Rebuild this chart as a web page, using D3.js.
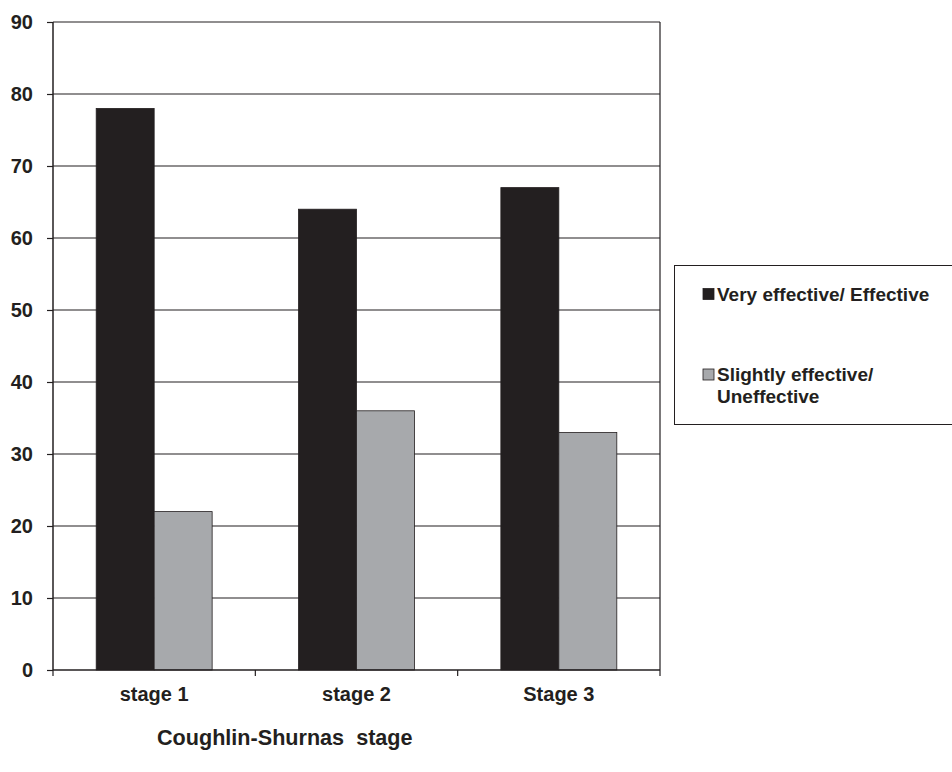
<!DOCTYPE html>
<html><head><meta charset="utf-8">
<script src="https://cdn.jsdelivr.net/npm/d3@7"></script>
<style>body{margin:0;background:#fff}svg{display:block;font-family:Arial,"Liberation Sans",sans-serif}</style>
</head><body><svg id="c" width="952" height="772"></svg>
<script>
const categories = ["stage 1", "stage 2", "Stage 3"];
const seriesNames = ["Very effective/ Effective", "Slightly effective/ Uneffective"];
const veryEffective = [78, 64, 67];
const slightlyEffective = [22, 36, 33];
const yTicks = [0, 10, 20, 30, 40, 50, 60, 70, 80, 90];
const xTitle = "Coughlin-Shurnas  stage";

const colors = ["#231f20", "#a7a9ac"];
const svg = d3.select("#c");
const L = 53, R = 660, T = 22, B = 670;
const x = d3.scaleBand().domain(categories).range([L, R]).paddingInner(0).paddingOuter(0);
const y = d3.scaleLinear().domain([0, 90]).range([B, T]);
const inner = d3.scaleBand().domain([0, 1]).range([0, x.bandwidth()]).paddingInner(0).paddingOuter(0.745);

// gridlines
svg.append("g").selectAll("line").data(yTicks.filter(d => d > 0)).join("line")
  .attr("x1", L).attr("x2", R).attr("y1", d => y(d)).attr("y2", d => y(d))
  .attr("stroke", "#231f20").attr("stroke-width", 1.2);
// right border
svg.append("line").attr("x1", R).attr("x2", R).attr("y1", T).attr("y2", B)
  .attr("stroke", "#231f20").attr("stroke-width", 1.2);

const series = [veryEffective, slightlyEffective];
series.forEach((vals, si) => {
  svg.append("g").selectAll("rect").data(categories).join("rect")
    .attr("x", c => x(c) + inner(si))
    .attr("width", inner.bandwidth())
    .attr("y", (c, i) => y(vals[i]))
    .attr("height", (c, i) => B - y(vals[i]))
    .attr("fill", colors[si])
    .attr("stroke", "#231f20").attr("stroke-width", 0.8);
});

// y axis
const ya = svg.append("g").attr("transform", `translate(${L},0)`)
  .call(d3.axisLeft(y).tickValues(yTicks).tickSize(6).tickPadding(14));
ya.select(".domain").attr("stroke", "#231f20").attr("stroke-width", 1.5).attr("d", `M0,${T}V${B}`);
ya.selectAll(".tick line").attr("stroke", "#231f20").attr("stroke-width", 1.2);
ya.selectAll(".tick text").attr("font-size", 20).attr("font-weight", "bold").attr("fill", "#231f20")
  .attr("font-family", "Arial, Liberation Sans, sans-serif");

// x axis
const xa = svg.append("g").attr("transform", `translate(0,${B})`)
  .call(d3.axisBottom(x).tickSize(0).tickPadding(17));
xa.select(".domain").attr("stroke", "#231f20").attr("stroke-width", 1.5).attr("d", `M${L},0H${R}`);
xa.selectAll(".tick text").attr("font-size", 20).attr("font-weight", "bold").attr("fill", "#231f20")
  .attr("font-family", "Arial, Liberation Sans, sans-serif");
// category separator ticks
const seps = categories.map(c => x(c)).concat([R]);
svg.append("g").selectAll("line").data(seps).join("line")
  .attr("x1", d => d).attr("x2", d => d).attr("y1", B).attr("y2", B + 6)
  .attr("stroke", "#231f20").attr("stroke-width", 1.2);

// x title
svg.append("text").attr("x", 157).attr("y", 745).attr("font-size", 21.6).attr("font-weight", "bold")
  .attr("fill", "#231f20").attr("xml:space", "preserve").style("white-space", "pre").text(xTitle);

// legend
svg.append("rect").attr("x", 674.5).attr("y", 265.5).attr("width", 300).attr("height", 159)
  .attr("fill", "#fff").attr("stroke", "#231f20").attr("stroke-width", 1);
const lg = svg.append("g");
lg.append("rect").attr("x", 703).attr("y", 288.5).attr("width", 11).attr("height", 11)
  .attr("fill", colors[0]).attr("stroke", "#231f20").attr("stroke-width", 0.8);
lg.append("text").attr("x", 717).attr("y", 301).attr("font-size", 19).attr("font-weight", "bold")
  .attr("fill", "#231f20").text(seriesNames[0]);
lg.append("rect").attr("x", 703).attr("y", 369).attr("width", 11).attr("height", 11)
  .attr("fill", colors[1]).attr("stroke", "#231f20").attr("stroke-width", 0.8);
const t2 = lg.append("text").attr("x", 717).attr("y", 381).attr("font-size", 19).attr("font-weight", "bold")
  .attr("fill", "#231f20");
t2.append("tspan").attr("x", 717).text("Slightly effective/");
t2.append("tspan").attr("x", 717).attr("dy", 22).text("Uneffective");
</script></body></html>
